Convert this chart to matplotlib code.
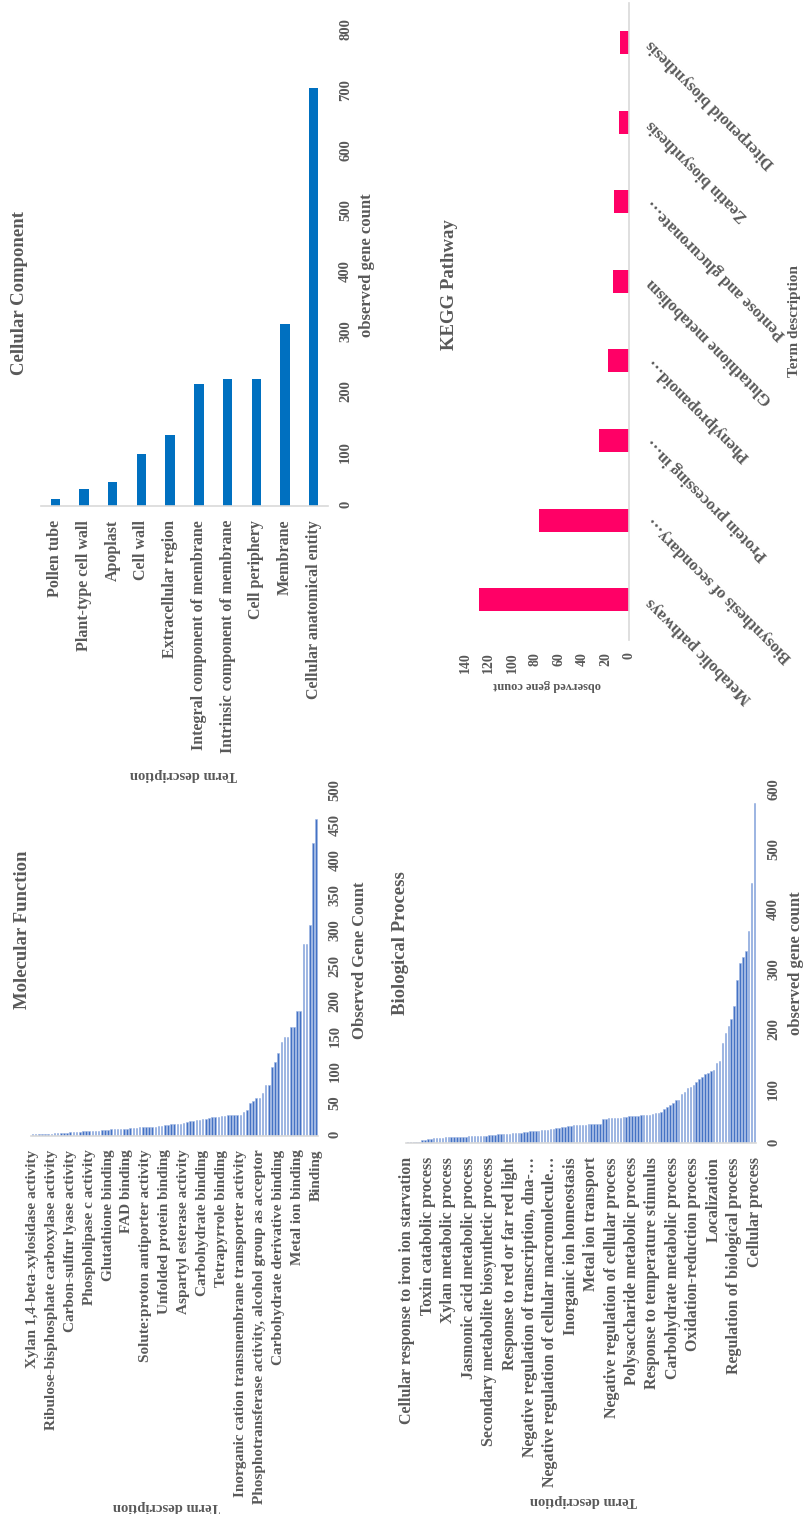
import matplotlib
matplotlib.use('Agg')
import matplotlib.pyplot as plt

# Cellular Component
cc_terms = ['Pollen tube', 'Plant-type cell wall', 'Apoplast', 'Cell wall',
            'Extracellular region', 'Integral component of membrane',
            'Intrinsic component of membrane', 'Cell periphery', 'Membrane',
            'Cellular anatomical entity']
cc_counts = [12, 28, 40, 87, 118, 203, 210, 211, 302, 693]

# Molecular Function (91 terms, every 6th labelled)
mf_labels = ['Xylan 1,4-beta-xylosidase activity',
             'Ribulose-bisphosphate carboxylase activity',
             'Carbon-sulfur lyase activity', 'Phospholipase c activity',
             'Glutathione binding', 'FAD binding',
             'Solute:proton antiporter activity', 'Unfolded protein binding',
             'Aspartyl esterase activity', 'Carbohydrate binding',
             'Tetrapyrrole binding',
             'Inorganic cation transmembrane transporter activity',
             'Phosphotransferase activity, alcohol group as acceptor',
             'Carbohydrate derivative binding', 'Metal ion binding', 'Binding']
mf_counts = [3, 3, 3, 3, 3, 3, 3, 4, 4, 4,
             4, 4, 5, 5, 5, 5, 6, 6, 6, 7,
             7, 7, 8, 8, 8, 9, 9, 9, 10, 10,
             10, 11, 11, 11, 12, 12, 12, 13, 13, 13,
             14, 14, 15, 15, 16, 16, 17, 17, 18, 20,
             21, 21, 22, 23, 24, 24, 25, 26, 27, 27,
             28, 28, 29, 29, 30, 30,
             30, 34, 37, 46, 49, 53, 53, 60, 72, 72,
             98, 105, 117, 133, 140, 140, 154, 154, 177, 177,
             273, 273, 300, 416, 450]

# Biological Process (120 terms, every 7th labelled)
bp_labels = ['Cellular response to iron ion starvation',
             'Toxin catabolic process', 'Xylan metabolic process',
             'Jasmonic acid metabolic process',
             'Secondary metabolite biosynthetic process',
             'Response to red or far red light',
             'Negative regulation of transcription, dna-\u2026',
             'Negative regulation of cellular macromolecule\u2026',
             'Inorganic ion homeostasis', 'Metal ion transport',
             'Negative regulation of cellular process',
             'Polysaccharide metabolic process',
             'Response to temperature stimulus',
             'Carbohydrate metabolic process', 'Oxidation-reduction process',
             'Localization', 'Regulation of biological process',
             'Cellular process']
bp_counts = [3, 3, 3, 3, 3, 5, 5, 8, 8,
             9, 9, 9, 9, 10, 10, 10, 10, 10, 11, 11, 11,
             12, 12, 12, 12, 13, 13, 13, 14, 14, 14, 15,
             15, 16, 16, 16, 17, 17, 18, 18, 19, 19, 20,
             20, 21, 21, 22, 22, 23, 24, 24, 25, 26, 27, 28,
             29, 29, 30, 30, 31, 31, 31, 32, 32, 32, 33, 33,
             41, 41, 42, 42, 43, 43, 43, 44, 44, 45, 45, 46, 46, 47, 47,
             48, 48, 49, 50,
             51, 53, 57, 60, 64, 67, 73, 73, 82, 86,
             93, 94, 97, 103, 108, 111, 116, 118, 121, 123,
             134, 138, 167, 184, 196, 207, 229, 272, 301, 311,
             320, 353, 434, 567]

# KEGG Pathway
kegg_terms = ['Metabolic pathways', 'Biosynthesis of secondary\u2026',
              'Protein processing in\u2026', 'Phenylpropanoid\u2026',
              'Glutathione metabolism', 'Pentose and glucuronate\u2026',
              'Zeatin biosynthesis', 'Diterpenoid biosynthesis']
kegg_counts = [128, 77, 26, 18, 14, 13, 9, 8]

W, H = 804, 1514
GREY = '#595959'
LINE = '#D9D9D9'

plt.rcParams['font.family'] = ['Liberation Serif', 'DejaVu Serif']
plt.rcParams['font.weight'] = 'bold'
plt.rcParams['text.color'] = GREY

fig = plt.figure(figsize=(W / 100, H / 100), dpi=100)


def box(x0, y0, x1, y1):
    # pixel box, origin top-left -> figure fraction
    return [x0 / W, 1 - y1 / H, (x1 - x0) / W, (y1 - y0) / H]


def put(x, y, s, rot, size):
    fig.text(x / W, 1 - y / H, s, ha='center', va='center', rotation=rot,
             fontsize=size, fontweight='bold', color=GREY)


def column_panel(rect, counts, labels, step, ymax, ystep, color, width,
                 label_size, edge='none'):
    ax = fig.add_axes(box(*rect))
    n = len(counts)
    ax.bar(range(n), counts, width=width, color=color, edgecolor=edge,
           linewidth=0.4)
    ax.set_xlim(-0.5, n - 0.5)
    ax.set_ylim(0, ymax)
    ax.set_yticks(range(0, ymax + 1, ystep))
    ax.yaxis.tick_right()
    ax.tick_params(axis='y', length=0, pad=8, labelrotation=90,
                   labelsize=10.5, labelcolor=GREY)
    ax.set_xticks(range(0, n, step))
    ax.set_xticklabels(labels, rotation=90, fontsize=label_size,
                       fontweight='bold', color=GREY)
    ax.tick_params(axis='x', length=0, pad=10)
    for s in ['top', 'left', 'right']:
        ax.spines[s].set_visible(False)
    ax.spines['bottom'].set_color(LINE)
    ax.spines['bottom'].set_linewidth(1.2)
    ax.patch.set_visible(False)
    return ax


# Cellular Component
column_panel((41, 23.6, 328, 506), cc_counts, cc_terms, 1, 800, 100,
             '#0070C0', 0.33, 11.5)
put(20, 293, 'Cellular Component', 90, 13.5)
put(367, 265, 'observed gene count', 90, 12)
put(183, 775, 'Term description', 180, 10.5)

# Molecular Function
column_panel((30.9, 783.7, 317.6, 1135.7), mf_counts, mf_labels, 6, 500, 50,
             '#4472C4', 0.5, 11, edge='#9DB5E3')
put(23, 930, 'Molecular Function', 90, 13.5)
put(360, 960, 'Observed Gene Count', 90, 12)
put(166, 1507, 'Term description', 180, 10.5)

# Biological Process
column_panel((406, 783.3, 756, 1143.3), bp_counts, bp_labels, 7, 600, 100,
             '#4472C4', 0.5, 11.5, edge='#9DB5E3')
put(401, 943, 'Biological Process', 90, 13.5)
put(796, 963, 'observed gene count', 90, 12)
put(583, 1500, 'Term description', 180, 10.5)

# KEGG Pathway
ax = fig.add_axes(box(465, 2.7, 629.5, 639.5))
ax.barh(range(len(kegg_counts)), kegg_counts, height=0.29, color='#FF0066')
ax.set_xlim(140, 0)
ax.set_ylim(-0.5, len(kegg_counts) - 0.5)
ax.set_xticks(range(0, 141, 20))
ax.tick_params(axis='x', length=0, pad=9, labelrotation=90, labelsize=10,
               labelcolor=GREY)
ax.yaxis.tick_right()
ax.set_yticks(range(len(kegg_terms)))
ax.set_yticklabels(kegg_terms, rotation=135, rotation_mode='anchor',
                   ha='right', va='center', fontsize=12, fontweight='bold',
                   color=GREY)
ax.tick_params(axis='y', length=0, pad=14)
for s in ['top', 'left', 'bottom']:
    ax.spines[s].set_visible(False)
ax.spines['right'].set_color(LINE)
ax.spines['right'].set_linewidth(1.2)
ax.patch.set_visible(False)
put(450, 285, 'KEGG Pathway', 90, 13.5)
put(547, 685, 'observed gene count', 180, 9)
put(795, 321, 'Term description', 90, 11)

fig.savefig('out.png', dpi=100)
